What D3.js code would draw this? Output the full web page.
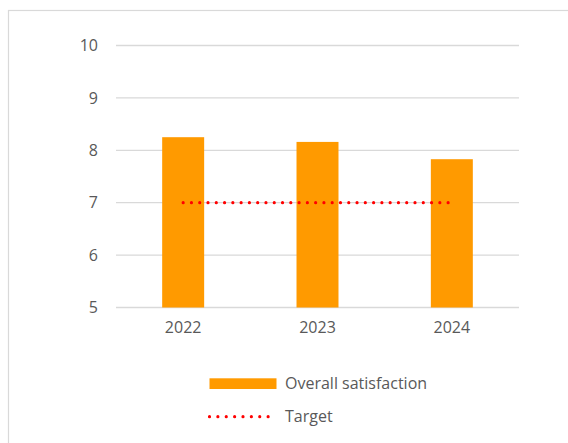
<!DOCTYPE html>
<html><head><meta charset="utf-8">
<script src="https://cdn.jsdelivr.net/npm/d3@7"></script>
<style>html,body{margin:0;padding:0;background:#fff;}svg{display:block;}</style>
</head><body>
<script>
const categories = ["2022", "2023", "2024"];
const satisfaction = [8.25, 8.16, 7.83];
const target = [7, 7, 7];
const yTicks = [5, 6, 7, 8, 9, 10];
const seriesNames = ["Overall satisfaction", "Target"];

(function () {
const W = 568, H = 443;
const font = "'Open Sans', sans-serif";
const textColor = "#595959";
const svg = d3.select("body").append("svg").attr("width", W).attr("height", H);

svg.append("rect").attr("x", 8.5).attr("y", 10.5).attr("width", 600).attr("height", 500)
  .attr("fill", "#fff").attr("stroke", "#d9d9d9").attr("stroke-width", 1.2);

const pl = 116, pr = 519, pt = 45.5, pb = 307.5;
const x = d3.scaleBand().domain(categories).range([pl, pr]).paddingInner(0.6875).paddingOuter(0.34375);
const xc = d3.scaleBand().domain(categories).range([pl, pr]);
const y = d3.scaleLinear().domain([5, 10]).range([pb, pt]);

svg.append("g").selectAll("line").data(yTicks).join("line")
  .attr("x1", pl).attr("x2", pr)
  .attr("y1", d => y(d)).attr("y2", d => y(d))
  .attr("stroke", "#d9d9d9").attr("stroke-width", 1.3);

const yAxis = svg.append("g").attr("transform", `translate(${pl},0)`)
  .call(d3.axisLeft(y).tickValues(yTicks).tickSize(0).tickPadding(18).tickFormat(d3.format("d")));
yAxis.select(".domain").remove();
yAxis.selectAll("text").attr("fill", textColor).style("font-family", font).style("font-size", "16px");

svg.append("g").selectAll("rect").data(satisfaction).join("rect")
  .attr("x", (d, i) => x(categories[i]))
  .attr("width", x.bandwidth())
  .attr("y", d => y(d))
  .attr("height", d => y(5) - y(d))
  .attr("fill", "#ff9a00");

const xAxis = svg.append("g").attr("transform", `translate(0,${pb})`)
  .call(d3.axisBottom(xc).tickSize(0).tickPadding(14));
xAxis.select(".domain").remove();
xAxis.selectAll("text").attr("fill", textColor).style("font-family", font).style("font-size", "16px");

const line = d3.line().x((d, i) => xc(categories[i]) + xc.bandwidth() / 2).y(d => y(d));
svg.append("path").datum(target).attr("d", line)
  .attr("fill", "none").attr("stroke", "#ff0000").attr("stroke-width", 3.2)
  .attr("stroke-linecap", "round").attr("stroke-dasharray", "0 8.28");

const lg = svg.append("g");
lg.append("rect").attr("x", 209.5).attr("y", 378.3).attr("width", 67).attr("height", 10.7).attr("fill", "#ff9a00");
lg.append("path").attr("d", d3.line()([[209.5, 416.7], [276.5, 416.7]]))
  .attr("stroke", "#ff0000").attr("stroke-width", 3.2).attr("stroke-linecap", "round")
  .attr("stroke-dasharray", "0 8.375");
lg.selectAll("text").data(seriesNames).join("text")
  .attr("x", 285).attr("y", (d, i) => 383.6 + i * 33)
  .attr("dy", "0.35em")
  .attr("fill", textColor).style("font-family", font).style("font-size", "16px")
  .text(d => d);
})();
</script>
</body></html>
